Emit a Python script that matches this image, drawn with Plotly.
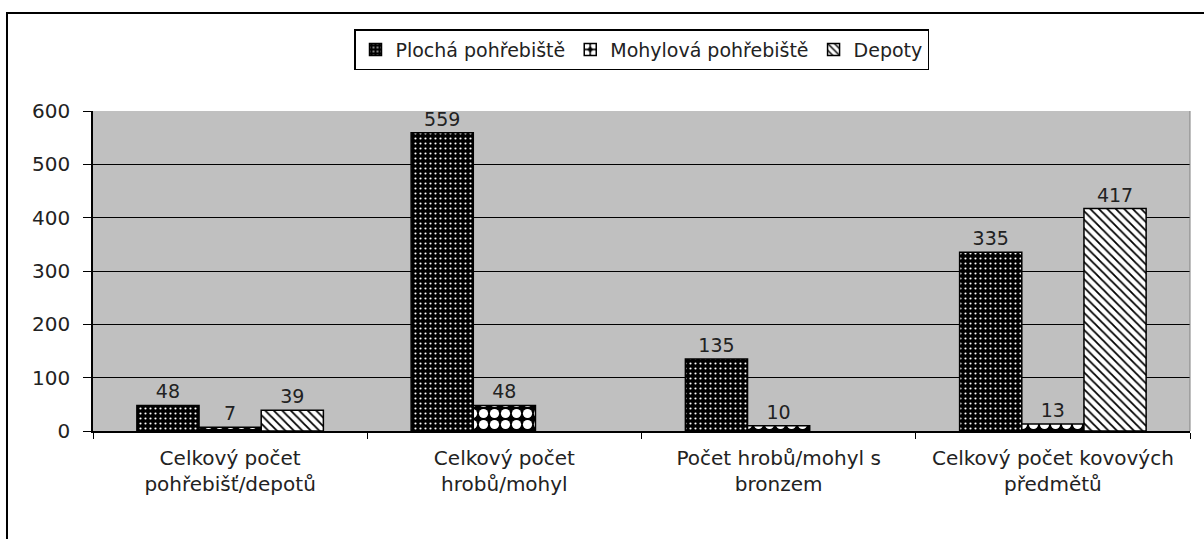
import plotly.graph_objects as go

categories = ["Celkový počet<br>pohřebišť/depotů", "Celkový počet<br>hrobů/mohyl",
              "Počet hrobů/mohyl s<br>bronzem", "Celkový počet kovových<br>předmětů"]
plocha = [48, 559, 135, 335]
mohylova = [7, 48, 10, 13]
depoty = [39, None, None, 417]
series_names = ["Plochá pohřebiště", "Mohylová pohřebiště", "Depoty"]
y_ticks = [0, 100, 200, 300, 400, 500, 600]

FONT = "DejaVu Sans, Liberation Sans, Arial, sans-serif"
TXT = "#222222"

fig = go.Figure()
fig.add_bar(x=categories, y=plocha, name=series_names[0],
            marker=dict(color="black", line=dict(color="black", width=1.5),
                        pattern=dict(shape=".", bgcolor="black", fgcolor="white", fgopacity=1,
                                     size=5, solidity=0.15)),
            text=plocha, textposition="outside")
fig.add_bar(x=categories, y=mohylova, name=series_names[1],
            marker=dict(color="black", line=dict(color="black", width=1.5),
                        pattern=dict(shape=".", bgcolor="black", fgcolor="white", fgopacity=1,
                                     size=11, solidity=0.55)),
            text=mohylova, textposition="outside")
fig.add_bar(x=categories, y=depoty, name=series_names[2],
            marker=dict(color="white", line=dict(color="black", width=1.5),
                        pattern=dict(shape="\\", bgcolor="white", fgcolor="black", fgopacity=1,
                                     size=6, solidity=0.3)),
            text=depoty, textposition="outside")

fig.update_traces(textfont=dict(family=FONT, size=19, color=TXT), cliponaxis=False)

fig.update_layout(
    width=1204, height=539,
    margin=dict(l=93, r=14, t=111, b=108),
    paper_bgcolor="white", plot_bgcolor="#C0C0C0",
    barmode="group", bargap=0.32, bargroupgap=0,
    font=dict(family=FONT, size=19, color=TXT),
    showlegend=True,
    legend=dict(orientation="h", x=0.5, xanchor="center", y=1.256, yanchor="top",
                bgcolor="white", bordercolor="black", borderwidth=1.5,
                font=dict(family=FONT, size=19, color=TXT), itemwidth=30,
                traceorder="normal"),
    xaxis=dict(showline=True, linecolor="black", linewidth=1.5,
               ticks="outside", tickson="boundaries", ticklen=6, tickcolor="black",
               ticklabelstandoff=8,
               tickfont=dict(family=FONT, size=20, color=TXT), showgrid=False),
    yaxis=dict(range=[0, 600], tickvals=y_ticks, showline=True, linecolor="black", linewidth=1.5,
               ticks="outside", ticklen=8, tickcolor="black", ticklabelstandoff=9,
               gridcolor="black", gridwidth=1, zeroline=False,
               tickfont=dict(family=FONT, size=20, color=TXT)),
    shapes=[
        dict(type="line", xref="paper", yref="paper", x0=1, x1=1, y0=0, y1=1,
             line=dict(color="#808080", width=1)),
        dict(type="rect", xref="paper", yref="paper", x0=-0.0784, x1=1.2, y0=-0.6, y1=1.306,
             line=dict(color="black", width=2), fillcolor="rgba(0,0,0,0)", layer="below"),
    ],
)

fig.write_html("out.html", config={"displayModeBar": False},
               post_script="document.body.style.margin='0';")
